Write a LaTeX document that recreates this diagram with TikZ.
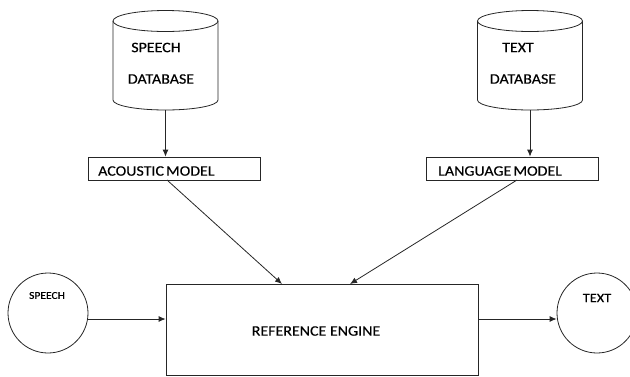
\documentclass[tikz,border=0pt]{standalone}
\usepackage{fontspec}
\setmainfont{Carlito}[FakeStretch=1.1, FakeBold=0.3]
\usetikzlibrary{arrows.meta}
\begin{document}
\begin{tikzpicture}[x=1pt,y=-1pt,
  line/.style={draw=black!85, line width=0.8pt},
  conn/.style={line, -{Latex[length=7pt,width=6pt]}},
  modelbox/.style={line, rectangle, inner sep=0pt, minimum width=172pt, minimum height=23pt},
  lbl/.style={inner sep=0pt, font=\fontsize{14.5}{16}\selectfont},
  anchorbox/.style={inner sep=0pt, minimum width=105pt, minimum height=99pt}]
\useasboundingbox (0,0) rectangle (630,376);

% speech database cylinder
\node[anchorbox] (sdb) at (165.5,60.5) {};
\draw[line] (165.5,21) ellipse [x radius=52.5, y radius=10.5];
\draw[line] (113,21) -- (113,100) arc[start angle=180, end angle=0, x radius=52.5, y radius=10] -- (218,21);
\node[lbl] (sdb1) at (156,47.5) {SPEECH};
\node[lbl] (sdb2) at (161,79) {DATABASE};

% text database cylinder
\node[anchorbox] (tdb) at (530,60.5) {};
\draw[line] (530,21) ellipse [x radius=52.5, y radius=10.5];
\draw[line] (477.5,21) -- (477.5,100) arc[start angle=180, end angle=0, x radius=52.5, y radius=10] -- (582.5,21);
\node[lbl] (tdb1) at (518,47.5) {TEXT};
\node[lbl] (tdb2) at (523,79) {DATABASE};

% model boxes
\node[modelbox] (am) at (174,168.5) {};
\node[lbl, anchor=west] at (98,171) {ACOUSTIC\kern-1.5pt\ MODEL};
\node[modelbox] (lm) at (512.5,168.5) {};
\node[lbl, anchor=west] at (438,171) {LANGUAGE\kern-1.5pt\ MODEL};

% engine
\node[line, rectangle, inner sep=0pt, minimum width=312pt, minimum height=91pt] (eng) at (322,329.5) {};
\node[lbl] at (316,331) {REFERENCE ENGINE};

% input and output circles
\node[line, circle, inner sep=0pt, minimum size=80pt] (in) at (48,313) {};
\node[inner sep=0pt, font=\fontsize{10.5}{12}\selectfont] at (47,295.5) {SPEECH};
\node[line, circle, inner sep=0pt, minimum size=80pt] (out) at (597,313) {};
\node[inner sep=0pt, font=\fontsize{13}{14}\selectfont] at (597,298) {TEXT};

% connectors
\draw[conn] (sdb.south) -- (sdb.south |- am.north);
\draw[conn] (tdb.south) -- (tdb.south |- lm.north);
\draw[conn] (167,180) -- (282,284);
\draw[conn] (517,180) -- (350,284);
\draw[conn] (in.east |- 0,319) -- (eng.west |- 0,319);
\draw[conn] (eng.east |- 0,319) -- (out.west |- 0,319);
\end{tikzpicture}
\end{document}
